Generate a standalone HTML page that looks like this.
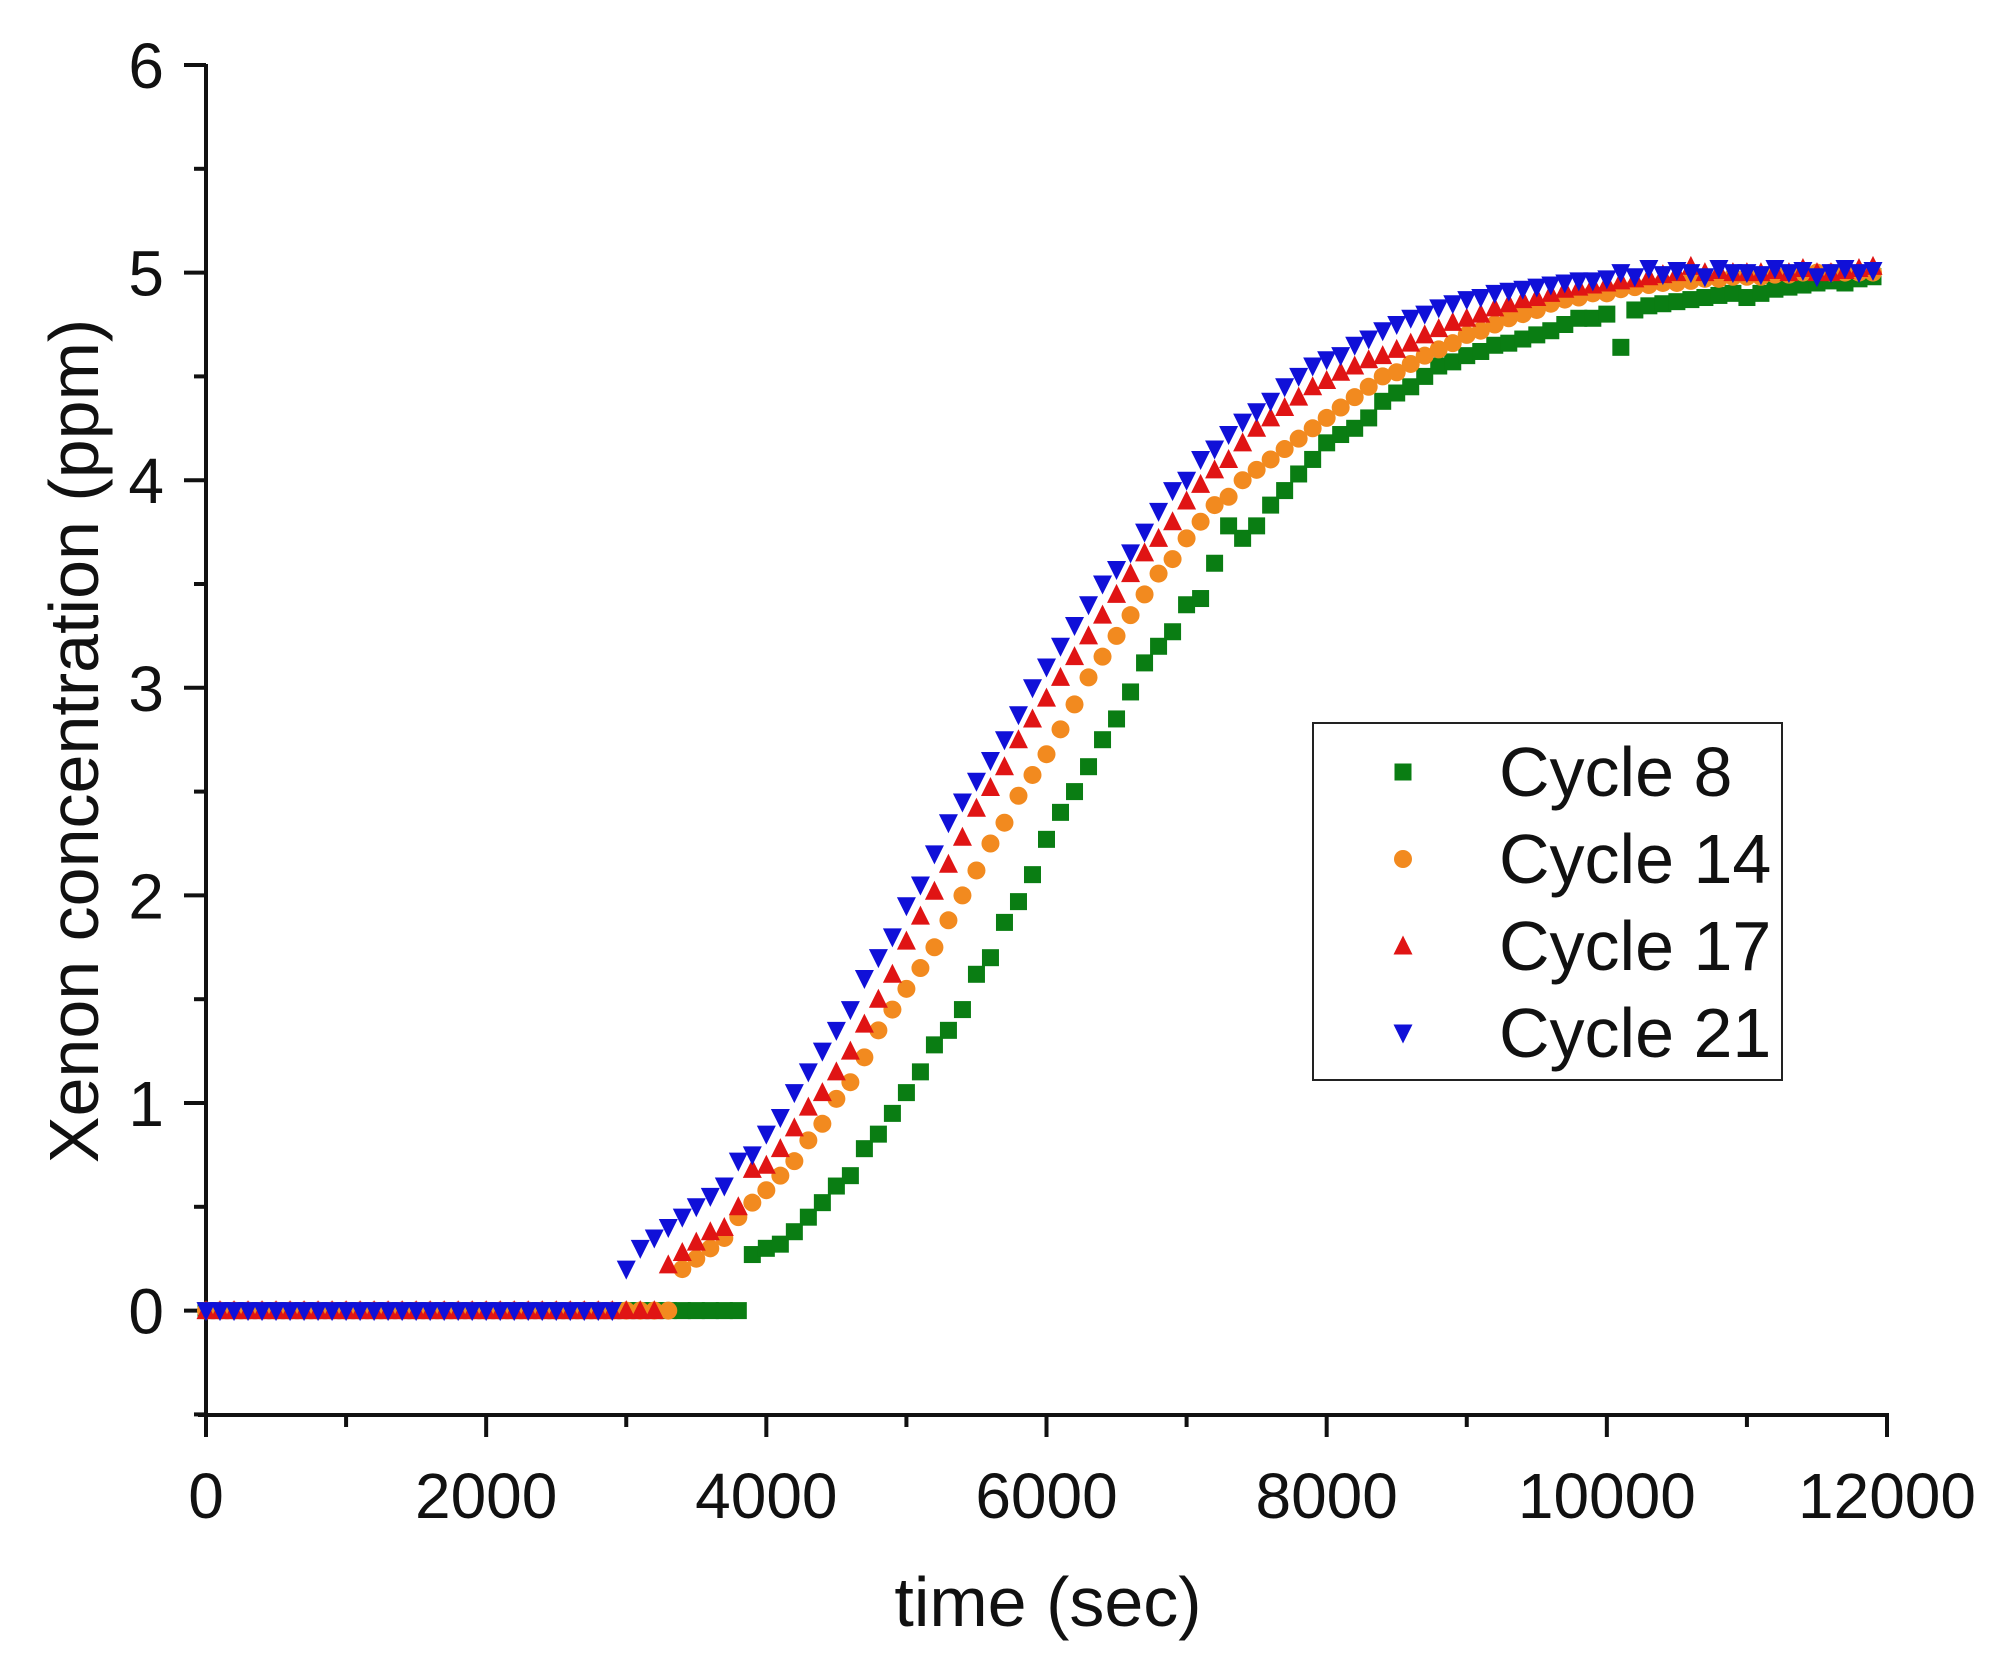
<!DOCTYPE html>
<html><head><meta charset="utf-8"><style>
html,body{margin:0;padding:0;background:#fff;}
svg{display:block;font-family:"Liberation Sans",Arial,sans-serif;}
</style></head><body>
<svg id="chart" width="1994" height="1673" viewBox="0 0 1994 1673" xmlns="http://www.w3.org/2000/svg">
<g id="axes"></g>
<g id="plot"></g>
<g id="legend"></g>
<text x="1048" y="1626" font-size="70" text-anchor="middle" fill="#111">time (sec)</text>
<text transform="translate(98,741) rotate(-90)" font-size="70" text-anchor="middle" fill="#111">Xenon concentration (ppm)</text>
</svg>
<script>
const xTicks=[0,2000,4000,6000,8000,10000,12000];
const yTicks=[0,1,2,3,4,5,6];
const seriesNames=["Cycle 8","Cycle 14","Cycle 17","Cycle 21"];
const cycle8Start=3900;
const cycle8=[0.27,
0.3,0.32,0.38,0.45,0.52,0.6,0.65,0.78,0.85,0.95,
1.05,1.15,1.28,1.35,1.45,1.62,1.7,1.87,1.97,2.1,
2.27,2.4,2.5,2.62,2.75,2.85,2.98,3.12,3.2,3.27,
3.4,3.43,3.6,3.78,3.72,3.78,3.88,3.95,4.03,4.1,
4.18,4.22,4.25,4.3,4.38,4.42,4.45,4.5,4.55,4.57,
4.6,4.62,4.65,4.66,4.68,4.7,4.72,4.75,4.78,4.78,
4.8,4.64,4.82,4.84,4.85,4.86,4.87,4.88,4.89,4.9,
4.88,4.9,4.92,4.93,4.94,4.95,4.96,4.95,4.97,4.98];
const cycle14Start=3400;
const cycle14=[0.2,0.25,0.3,0.35,0.45,0.52,
0.58,0.65,0.72,0.82,0.9,1.02,1.1,1.22,1.35,1.45,
1.55,1.65,1.75,1.88,2.0,2.12,2.25,2.35,2.48,2.58,
2.68,2.8,2.92,3.05,3.15,3.25,3.35,3.45,3.55,3.62,
3.72,3.8,3.88,3.92,4.0,4.05,4.1,4.15,4.2,4.25,
4.3,4.35,4.4,4.45,4.5,4.52,4.56,4.6,4.63,4.66,
4.7,4.72,4.75,4.78,4.8,4.82,4.85,4.87,4.88,4.9,
4.9,4.92,4.93,4.94,4.95,4.95,4.96,4.97,4.97,4.98,
4.98,4.98,4.99,4.99,5.0,5.0,5.0,5.0,5.0,5.0];
const cycle17Start=3300;
const cycle17=[0.22,0.28,0.33,0.38,0.4,0.5,0.68,
0.7,0.78,0.88,0.98,1.05,1.15,1.25,1.38,1.5,1.62,
1.78,1.9,2.02,2.15,2.28,2.42,2.52,2.62,2.75,2.85,
2.95,3.05,3.15,3.25,3.35,3.45,3.55,3.65,3.72,3.8,
3.9,3.98,4.05,4.1,4.18,4.25,4.3,4.35,4.4,4.45,
4.48,4.52,4.55,4.58,4.6,4.63,4.66,4.7,4.73,4.76,
4.78,4.8,4.83,4.85,4.87,4.88,4.9,4.92,4.93,4.94,
4.95,4.96,4.97,4.98,4.99,5.0,5.03,5.0,5.01,5.0,
5.0,5.0,5.01,5.0,5.02,5.0,5.0,5.01,5.02,5.03];
const cycle21Start=3000;
const cycle21=[0.2,0.3,0.35,0.4,0.45,0.5,0.55,0.6,0.72,0.75,
0.85,0.93,1.05,1.15,1.25,1.35,1.45,1.6,1.7,1.8,
1.95,2.05,2.2,2.35,2.45,2.55,2.65,2.75,2.87,3.0,
3.1,3.2,3.3,3.4,3.5,3.57,3.65,3.75,3.85,3.95,
4.0,4.1,4.15,4.22,4.28,4.33,4.38,4.45,4.5,4.55,
4.58,4.6,4.65,4.68,4.72,4.75,4.78,4.8,4.83,4.85,
4.87,4.88,4.9,4.91,4.92,4.93,4.94,4.95,4.96,4.96,
4.97,5.0,4.98,5.02,4.99,5.01,5.0,4.98,5.02,5.0,
5.0,4.99,5.02,5.0,5.01,4.98,5.0,5.02,5.0,5.01];
const timeStep=100;

const X0=206,X1=1887,Y6=65,UNIT=207.6,YBOT=1415;
const xs=t=>X0+(t/12000)*(X1-X0);
const ys=v=>Y6+(6-v)*UNIT;
const NS="http://www.w3.org/2000/svg";
function mk(tag,attrs,parent){const e=document.createElementNS(NS,tag);for(const k in attrs)e.setAttribute(k,attrs[k]);parent.appendChild(e);return e;}
const axes=document.getElementById('axes'),plot=document.getElementById('plot'),leg=document.getElementById('legend');

let l=mk('line',{x1:X0,y1:Y6-1,x2:X0,y2:YBOT,stroke:'#111','stroke-width':4},axes);


l=mk('line',{x1:X0-8,y1:YBOT,x2:X1+2,y2:YBOT,stroke:'#111','stroke-width':4},axes);


for(let v=-0.5;v<=6.01;v+=0.5){const major=Math.abs(v-Math.round(v))<1e-6;
 const t=mk('line',{x1:X0-(major?22:12),y1:ys(v),x2:X0,y2:ys(v),stroke:'#111','stroke-width':4},axes);
 
 }
yTicks.forEach(v=>{const t=mk('text',{x:X0-42,y:ys(v)+23,'font-size':64,'text-anchor':'end',fill:'#111'},axes);t.textContent=v;
 
 });
for(let v=0;v<=12000;v+=1000){const major=v%2000===0;
 const t=mk('line',{x1:xs(v),y1:YBOT,x2:xs(v),y2:YBOT+(major?22:12),stroke:'#111','stroke-width':4},axes);
 
 }
xTicks.forEach(v=>{const t=mk('text',{x:xs(v),y:1518,'font-size':64,'text-anchor':'middle',fill:'#111'},axes);t.textContent=v;
 
 });

const S=8.5;
function marker(kind,cx,cy,color,parent){
 if(kind==='sq')return mk('rect',{x:cx-S,y:cy-S,width:2*S,height:2*S,fill:color},parent);
 if(kind==='ci')return mk('circle',{cx:cx,cy:cy,r:S+0.5,fill:color},parent);
 if(kind==='up')return mk('polygon',{points:`${cx},${cy-S-2} ${cx-S-1},${cy+S} ${cx+S+1},${cy+S}`,fill:color},parent);
 return mk('polygon',{points:`${cx-S-1},${cy-S} ${cx+S+1},${cy-S} ${cx},${cy+S+2}`,fill:color},parent);
}
const series=[
 {name:'cycle-8',kind:'sq',color:'#0a7d13',start:cycle8Start,vals:cycle8},
 {name:'cycle-14',kind:'ci',color:'#f28a1f',start:cycle14Start,vals:cycle14},
 {name:'cycle-17',kind:'up',color:'#e01414',start:cycle17Start,vals:cycle17},
 {name:'cycle-21',kind:'dn',color:'#1010d8',start:cycle21Start,vals:cycle21}];
series.forEach(s=>{
 const g=mk('g',{},plot);
 
 
 for(let t=0;t<s.start;t+=timeStep){const m=marker(s.kind,xs(t),ys(0),s.color,g);
  
  }
 s.vals.forEach((v,i)=>{const m=marker(s.kind,xs(s.start+i*timeStep),ys(v),s.color,g);
  
  });
});

const box=mk('rect',{x:1313,y:723,width:469,height:357,fill:'#fff',stroke:'#222','stroke-width':2},leg);


series.forEach((s,i)=>{const y=772+i*87;
 const g=mk('g',{},leg);
 
 
 marker(s.kind,1403,y,s.color,g);
 const t=mk('text',{x:1499,y:y+24,'font-size':70,fill:'#111'},g);t.textContent=seriesNames[i];});
</script>
</body></html>
